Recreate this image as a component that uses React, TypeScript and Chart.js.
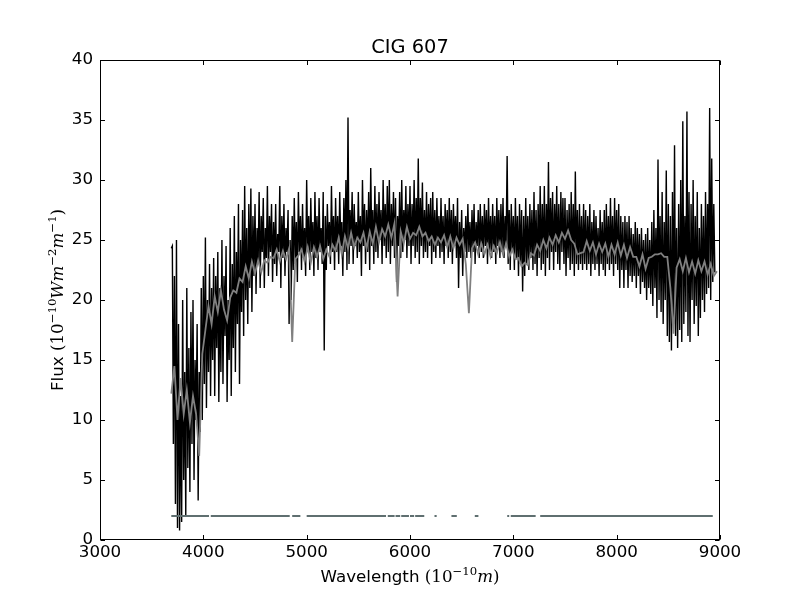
import React, { useEffect, useRef } from "react";
import { Chart, registerables } from "chart.js";

Chart.register(...registerables);

// ---- Data ----
const X_TICKS = [3000, 4000, 5000, 6000, 7000, 8000, 9000];
const Y_TICKS = [0, 5, 10, 15, 20, 25, 30, 35, 40];

// observed spectrum (black), sampled every 10 Å from 3690 Å
const OBS_START = 3690;
const OBS_STEP = 10;
const OBS_FLUX = [
  24.3, 24.5, 8, 22, 3, 25, 1, 18, 0.8, 12,
  1.5, 20, 5, 14, 2, 21, 6, 16, 4, 19,
  8, 20, 5, 15, 10, 18, 3.3, 14, 9, 21,
  10, 22, 13, 25.2, 11, 20, 14, 23, 12, 21,
  15, 23.5, 12, 22, 16, 24, 11.5, 21, 14, 25,
  13, 22, 17, 24.5, 11.5, 20, 15, 26, 12, 23,
  16, 27, 14, 24, 18, 28, 13, 25, 19, 27.5,
  17, 29.5, 20, 26, 18, 28, 21, 29.3, 19, 27,
  22, 28, 20.5, 26, 23, 29, 21, 27, 24, 28.5,
  21, 26, 23.5, 29.5, 22, 27, 24, 28, 21.5, 26.5,
  23, 28, 22, 25.5, 24, 29.5, 21, 27, 23.5, 28,
  22, 26, 24, 27.5, 18, 25, 20, 27, 22.5, 28.5,
  23, 26.5, 21.5, 29, 24, 27, 22.5, 28, 23.5, 26,
  22, 30, 24, 27, 22.5, 28.5, 24, 26.5, 22, 29,
  23.5, 27, 22.5, 28.5, 24, 26, 23, 29, 15.8, 27,
  22.5, 28, 24.5, 26.5, 23, 29.5, 24, 27, 22.5, 28.5,
  24, 27, 23, 29, 24.5, 26.5, 22, 28.5, 24, 30,
  22.5, 35.2, 23, 27.5, 24.5, 29, 23, 28, 24.5, 26.5,
  23.5, 29, 24, 27, 22, 30, 24.5, 28, 23, 27.5,
  24, 29, 22.5, 31, 24.5, 27.5, 23, 29.5, 24, 28,
  23.5, 29, 25, 27.5, 23, 30, 24.5, 28, 23.5, 29.5,
  24, 30, 23, 28, 24.5, 29, 23.5, 28.5, 21.5, 27,
  24.5, 29, 23.5, 30, 24, 27.5, 25, 29.5, 23.5, 28,
  24.5, 29.5, 23, 28, 24.5, 30, 23.5, 28.5, 24, 31.8,
  23, 28.5, 24.5, 29.8, 23.5, 27.5, 24, 29, 23.5, 28,
  24.5, 28.5, 23, 29, 24, 27.5, 23.5, 28.5, 24.5, 27,
  23.5, 28.5, 24, 27, 23, 28, 24.5, 27.5, 23.5, 28.5,
  24, 27.5, 23, 28, 24.5, 27, 23.5, 28.5, 21, 26.5,
  23.5, 27.5, 22, 26, 24, 27, 23.5, 28, 24, 26.5,
  23.5, 27.5, 24, 28, 23, 26.5, 24.5, 27.5, 23.5, 28,
  24, 27, 23.5, 28, 24.5, 27.5, 23, 28.5, 24, 27,
  23.5, 28, 24, 27, 23, 28.5, 24.5, 27.5, 23.5, 28,
  24, 28.5, 23.5, 27, 24.5, 32, 23, 27.5, 22.5, 28,
  24, 27, 22.5, 28.5, 23.5, 27, 22, 28, 23, 27.5,
  20.7, 27, 22, 28.5, 23, 27, 22.5, 28, 23.5, 27.5,
  22.5, 29, 23, 27.5, 22, 28, 23.5, 29.5, 22.5, 28,
  23, 29.5, 22, 28, 23.5, 31.5, 22.5, 28.5, 24, 29,
  22.5, 28, 24, 29.5, 23, 28, 22.5, 29, 24, 28.5,
  23, 28.5, 22, 27.5, 23.5, 28, 22.5, 29, 23, 28,
  22, 30.7, 23, 27.5, 22.5, 28, 23, 27, 22.5, 28,
  23, 27.5, 22.5, 27, 23, 28, 22, 26.5, 23, 27.5,
  22.5, 27, 23, 26, 22, 27.5, 23, 26.5, 22.5, 27.5,
  22, 28, 23, 27, 22.5, 28.5, 23, 27, 22, 28.5,
  23, 27.5, 22.5, 28, 21, 27, 22.5, 26.5, 21, 27,
  22.5, 26.5, 21, 27, 22, 26, 21.5, 25.5, 22, 26.5,
  21, 26, 22, 25.5, 20.5, 26, 21.5, 25, 21, 25.5,
  20, 26, 21, 25, 20.5, 26.5, 19.5, 27.5, 21, 26,
  18.5, 31.7, 20, 27, 19, 29, 18, 26.5, 20, 30.8,
  17, 28, 16.5, 27, 15.8, 29, 18, 32.9, 17, 26,
  16, 28, 17.5, 30, 16.5, 34.9, 18, 27, 19, 35.7,
  17, 29, 16.5, 28, 20, 30, 18, 27, 19.5, 29,
  17, 26, 18.5, 28, 20, 27, 19, 29, 20.5, 28,
  21, 36, 20, 31.8, 21.5, 28, 22.3,
];

// model spectrum (gray), sampled every 30 Å from 3690 Å
const MODEL_START = 3690;
const MODEL_STEP = 30;
const MODEL_FLUX = [
  12.2, 14.5, 10, 13.5, 10.5, 12.5, 9.8, 12, 10.5, 7,
  15.5, 17.5, 19.5, 18, 20.3, 19, 20.8, 19.2, 18.3, 20.2,
  20.8, 20.6, 21.8, 21.5, 22.8, 21.8, 23.2, 22.2, 23.3, 22.3,
  23.3, 23.1, 23.6, 23.5, 24.2, 23.2, 24.1, 23.4, 24.3, 16.5,
  23.4, 23.7, 24.2, 23.2, 24.4, 23.1, 24.4, 23.6, 24.5, 23.4,
  24.2, 23.6, 24.6, 24.1, 25.2, 23.8, 25.3, 24.3, 25.6, 24.4,
  25.2, 24.8, 25.6, 24.3, 25.7, 24.7, 26.1, 24.8, 25.9, 25.3,
  26.3, 25.2, 26.4, 20.3, 25.7, 24.7, 26.1, 25.1, 25.6, 25.4,
  26.1, 25.3, 25.6, 24.9, 25.3, 24.6, 25.2, 24.8, 25.4, 24.4,
  25.3, 24.3, 25.2, 24.6, 25.1, 23, 18.9, 24.3, 24.8, 23.8,
  24.7, 23.8, 24.6, 23.6, 24.5, 23.9, 24.8, 23.8, 24.7, 23.6,
  24.2, 23.4, 23.5, 22.8, 23.1, 22.9, 23.9, 23.7, 24.6, 24.1,
  25, 24.3, 25.2, 24.6, 25.4, 24.8, 25.6, 25.1, 25.8, 25,
  24.7, 23.8, 23.9, 24, 24.9, 24.1, 24.8, 23.8, 24.7, 24,
  24.7, 23.6, 24.6, 23.8, 24.8, 23.7, 24.6, 23.5, 24.4, 23.6,
  23.6, 22.8, 23.8, 22.6, 23.5, 23.6, 23.8, 23.8, 23.9, 23.6,
  23.6, 21, 17.2, 22.7, 23.4, 22.4, 23.5, 22.3, 23.2, 22.2,
  23.3, 22.4, 23.2, 22.1, 23, 22, 22.4,
];

// mask line at constant level, drawn over these wavelength ranges
const MASK_LEVEL = 2;
const MASK_STARTS = [3690, 4072, 4860, 5000, 5785, 5860, 5915, 6000, 6050, 6237, 6401, 6627, 6941, 6975, 7260];
const MASK_ENDS = [4055, 4836, 4939, 5768, 5851, 5905, 5990, 6040, 6138, 6258, 6453, 6662, 6960, 7216, 8930];

const TITLE = "CIG 607";

const SANS = '"DejaVu Sans", sans-serif';
const SERIF = '"DejaVu Serif", serif';

type Seg = { t: string; font: string; dy: number };

function drawSegs(ctx: CanvasRenderingContext2D, segs: Seg[], cx: number, baseY: number) {
  let total = 0;
  const widths = segs.map((s) => {
    ctx.font = s.font;
    const w = ctx.measureText(s.t).width;
    total += w;
    return w;
  });
  let x = cx - total / 2;
  ctx.textAlign = "left";
  ctx.textBaseline = "alphabetic";
  segs.forEach((s, i) => {
    ctx.font = s.font;
    ctx.fillText(s.t, x, baseY + s.dy);
    x += widths[i];
  });
}

const decorPlugin = {
  id: "decor",
  afterDraw(chart: any) {
    const ctx: CanvasRenderingContext2D = chart.ctx;
    const { left, right, top, bottom } = chart.chartArea;
    const xs = chart.scales.x;
    const ys = chart.scales.y;
    ctx.save();
    ctx.strokeStyle = "#000";
    ctx.lineWidth = 1;
    const L = Math.round(left) + 0.5;
    const R = Math.round(right) - 0.5;
    const T = Math.round(top) + 0.5;
    const B = Math.round(bottom) - 0.5;
    ctx.strokeRect(L, T, R - L, B - T);
    const tl = 4.5;
    ctx.beginPath();
    X_TICKS.forEach((v) => {
      const px = Math.round(xs.getPixelForValue(v)) + 0.5;
      ctx.moveTo(px, B);
      ctx.lineTo(px, B - tl);
      ctx.moveTo(px, T);
      ctx.lineTo(px, T + tl);
    });
    Y_TICKS.forEach((v) => {
      const py = Math.round(ys.getPixelForValue(v)) + 0.5;
      ctx.moveTo(L, py);
      ctx.lineTo(L + tl, py);
      ctx.moveTo(R, py);
      ctx.lineTo(R - tl, py);
    });
    ctx.stroke();

    ctx.fillStyle = "#000";
    ctx.font = `19.4px ${SANS}`;
    ctx.textAlign = "center";
    ctx.textBaseline = "alphabetic";
    ctx.fillText(TITLE, (left + right) / 2, 53);

    const big = 16.7;
    const small = 11.7;
    drawSegs(
      ctx,
      [
        { t: "Wavelength ", font: `${big}px ${SANS}`, dy: 0 },
        { t: "(10", font: `${big}px ${SERIF}`, dy: 0 },
        { t: "\u221210", font: `${small}px ${SERIF}`, dy: -7 },
        { t: "m", font: `italic ${big}px ${SERIF}`, dy: 0 },
        { t: ")", font: `${big}px ${SERIF}`, dy: 0 },
      ],
      (left + right) / 2,
      582
    );
    ctx.save();
    ctx.translate(63, (top + bottom) / 2);
    ctx.rotate(-Math.PI / 2);
    drawSegs(
      ctx,
      [
        { t: "Flux ", font: `${big}px ${SANS}`, dy: 0 },
        { t: "(10", font: `${big}px ${SERIF}`, dy: 0 },
        { t: "\u221210", font: `${small}px ${SERIF}`, dy: -7 },
        { t: "Wm", font: `italic ${big}px ${SERIF}`, dy: 0 },
        { t: "\u22122", font: `${small}px ${SERIF}`, dy: -7 },
        { t: "m", font: `italic ${big}px ${SERIF}`, dy: 0 },
        { t: "\u22121", font: `${small}px ${SERIF}`, dy: -7 },
        { t: ")", font: `${big}px ${SERIF}`, dy: 0 },
      ],
      0,
      0
    );
    ctx.restore();
    ctx.restore();
  },
};

export default function App() {
  const ref = useRef<HTMLCanvasElement | null>(null);
  useEffect(() => {
    document.body.style.margin = "0";
    const canvas = ref.current;
    if (!canvas) return;
    Chart.defaults.font.family = SANS;
    Chart.defaults.color = "#000";

    const obs = OBS_FLUX.map((y, i) => ({ x: OBS_START + i * OBS_STEP, y }));
    const model = MODEL_FLUX.map((y, i) => ({ x: MODEL_START + i * MODEL_STEP, y }));
    const mask: { x: number; y: number | null }[] = [];
    MASK_STARTS.forEach((s, i) => {
      mask.push({ x: s, y: MASK_LEVEL });
      mask.push({ x: MASK_ENDS[i], y: MASK_LEVEL });
      mask.push({ x: MASK_ENDS[i] + 1, y: null });
    });

    const chart = new Chart(canvas, {
      type: "line",
      data: {
        datasets: [
          {
            label: "observed",
            data: obs,
            borderColor: "#000000",
            borderWidth: 1.4,
            pointRadius: 0,
            tension: 0,
            order: 3,
          },
          {
            label: "model",
            data: model,
            borderColor: "#808080",
            borderWidth: 1.8,
            pointRadius: 0,
            tension: 0,
            order: 2,
          },
          {
            label: "mask",
            data: mask as any,
            borderColor: "#5f6f70",
            borderWidth: 2,
            pointRadius: 0,
            tension: 0,
            spanGaps: false,
            order: 1,
          },
        ],
      },
      options: {
        animation: false,
        responsive: false,
        devicePixelRatio: 1,
        layout: { padding: { top: 60, right: 80, left: 0, bottom: 0 } },
        plugins: {
          legend: { display: false },
          title: { display: false },
          tooltip: { enabled: false },
        },
        scales: {
          x: {
            type: "linear",
            min: 3000,
            max: 9000,
            grid: { display: false, drawTicks: false },
            border: { display: false },
            ticks: {
              stepSize: 1000,
              padding: 3,
              maxRotation: 0,
              autoSkip: false,
              font: { size: 16.7 },
              color: "#000",
              callback: (v: any) => String(v),
            },
            afterFit: (s: any) => {
              s.height = 60;
            },
          },
          y: {
            type: "linear",
            min: 0,
            max: 40,
            grid: { display: false, drawTicks: false },
            border: { display: false },
            ticks: {
              stepSize: 5,
              padding: 7,
              autoSkip: false,
              font: { size: 16.7 },
              color: "#000",
              callback: (v: any) => String(v),
            },
            afterFit: (s: any) => {
              s.width = 100;
            },
          },
        },
      },
      plugins: [decorPlugin],
    });
    return () => chart.destroy();
  }, []);
  return <canvas ref={ref} width={800} height={600} style={{ display: "block" }} />;
}
